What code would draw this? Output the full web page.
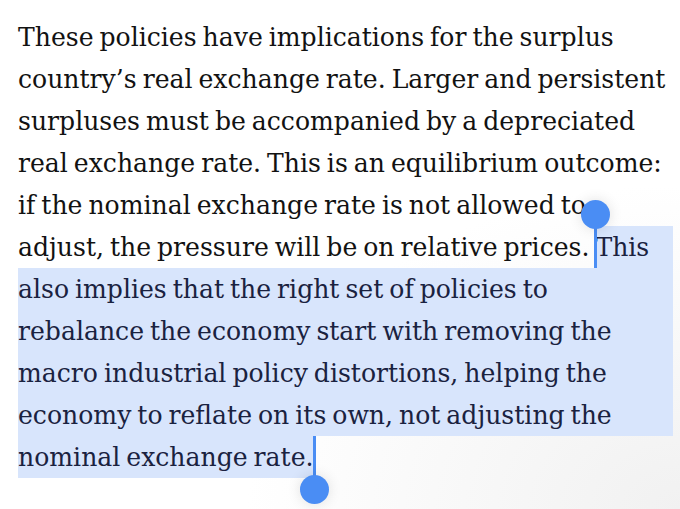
<!DOCTYPE html>
<html>
<head>
<meta charset="utf-8">
<script src="https://cdn.jsdelivr.net/npm/chart.js@4"></script>
<style>
  html, body { margin: 0; padding: 0; background: #fff; }
  body { width: 680px; height: 509px; position: relative; overflow: hidden;
         background: radial-gradient(ellipse at 100% 100%, #f1f1f1 0%, #fff 45%); }
  .line { position: absolute; left: 18px; height: 42px; line-height: 44px; white-space: nowrap;
          font-family: "DejaVu Serif", serif; color: #121212; }
  .band { position: absolute; background: #d8e5fc; }
  .sel { color: #1a2240; }
  .stem { position: absolute; width: 3px; background: #4a8df4; }
  .knob { position: absolute; width: 29px; height: 29px; border-radius: 50%; background: #4a8df4;
          box-shadow: 0 0 14px rgba(0,0,0,0.12); }
</style>
</head>
<body>
<script>
// paragraph, one entry per rendered line
var lines = [
  "These policies have implications for the surplus",
  "country\u2019s real exchange rate. Larger and persistent",
  "surpluses must be accompanied by a depreciated",
  "real exchange rate. This is an equilibrium outcome:",
  "if the nominal exchange rate is not allowed to",
  "adjust, the pressure will be on relative prices. This",
  "also implies that the right set of policies to",
  "rebalance the economy start with removing the",
  "macro industrial policy distortions, helping the",
  "economy to reflate on its own, not adjusting the",
  "nominal exchange rate."
];
var selStartLine = 5, selStartWord = "This";
var selEndLine = 10;

var top0 = 16, lh = 42, left = 18, right = 673;

function el(cls, css) {
  var d = document.createElement("div");
  d.className = cls;
  Object.assign(d.style, css);
  document.body.appendChild(d);
  return d;
}

// a touch larger than the plain fit, word gaps trimmed so line 1 spans 596px
var ctx = document.createElement("canvas").getContext("2d");
ctx.font = "100px 'DejaVu Serif'";
var fs = 596 / ctx.measureText(lines[0]).width * 100 * 1.02;
var probe = el("line", { fontSize: fs + "px", visibility: "hidden" });
probe.textContent = lines[0];
var ws = Math.max(-2, (596 - probe.offsetWidth) / (lines[0].split(" ").length - 1));
probe.remove();

// full-width selection band for the middle lines
el("band", { left: left + "px", top: (top0 + (selStartLine + 1) * lh) + "px",
             width: (right - left) + "px", height: ((selEndLine - selStartLine - 1) * lh) + "px" });

var startX = 0, endX = 0;
lines.forEach(function (t, i) {
  var d = el("line", { top: (top0 + i * lh) + "px", fontSize: fs + "px", wordSpacing: ws + "px" });
  if (i === selStartLine) {
    var k = t.lastIndexOf(selStartWord);
    d.appendChild(document.createTextNode(t.slice(0, k)));
    var s = document.createElement("span");
    s.className = "sel";
    s.textContent = t.slice(k);
    d.appendChild(s);
    startX = left + s.offsetLeft;
    el("band", { left: startX + "px", top: (top0 + i * lh) + "px",
                 width: (right - startX) + "px", height: lh + "px" });
  } else if (i === selEndLine) {
    var s2 = document.createElement("span");
    s2.className = "sel";
    s2.textContent = t;
    d.appendChild(s2);
    endX = left + s2.offsetWidth;
    el("band", { left: left + "px", top: (top0 + i * lh) + "px",
                 width: (endX - left) + "px", height: lh + "px" });
  } else {
    d.textContent = t;
    if (i > selStartLine && i < selEndLine) d.classList.add("sel");
  }
  document.body.appendChild(d); // keep text above its band
});

// selection handles
var yS = top0 + selStartLine * lh;
el("stem", { left: (startX - 1) + "px", top: (yS - 12) + "px", height: (lh + 12) + "px" });
el("knob", { left: (startX - 14) + "px", top: (yS - 26) + "px" });
var yE = top0 + selEndLine * lh;
el("stem", { left: (endX - 1) + "px", top: yE + "px", height: (lh + 8) + "px" });
el("knob", { left: (endX - 14) + "px", top: (yE + lh - 3) + "px" });
</script>
</body>
</html>
